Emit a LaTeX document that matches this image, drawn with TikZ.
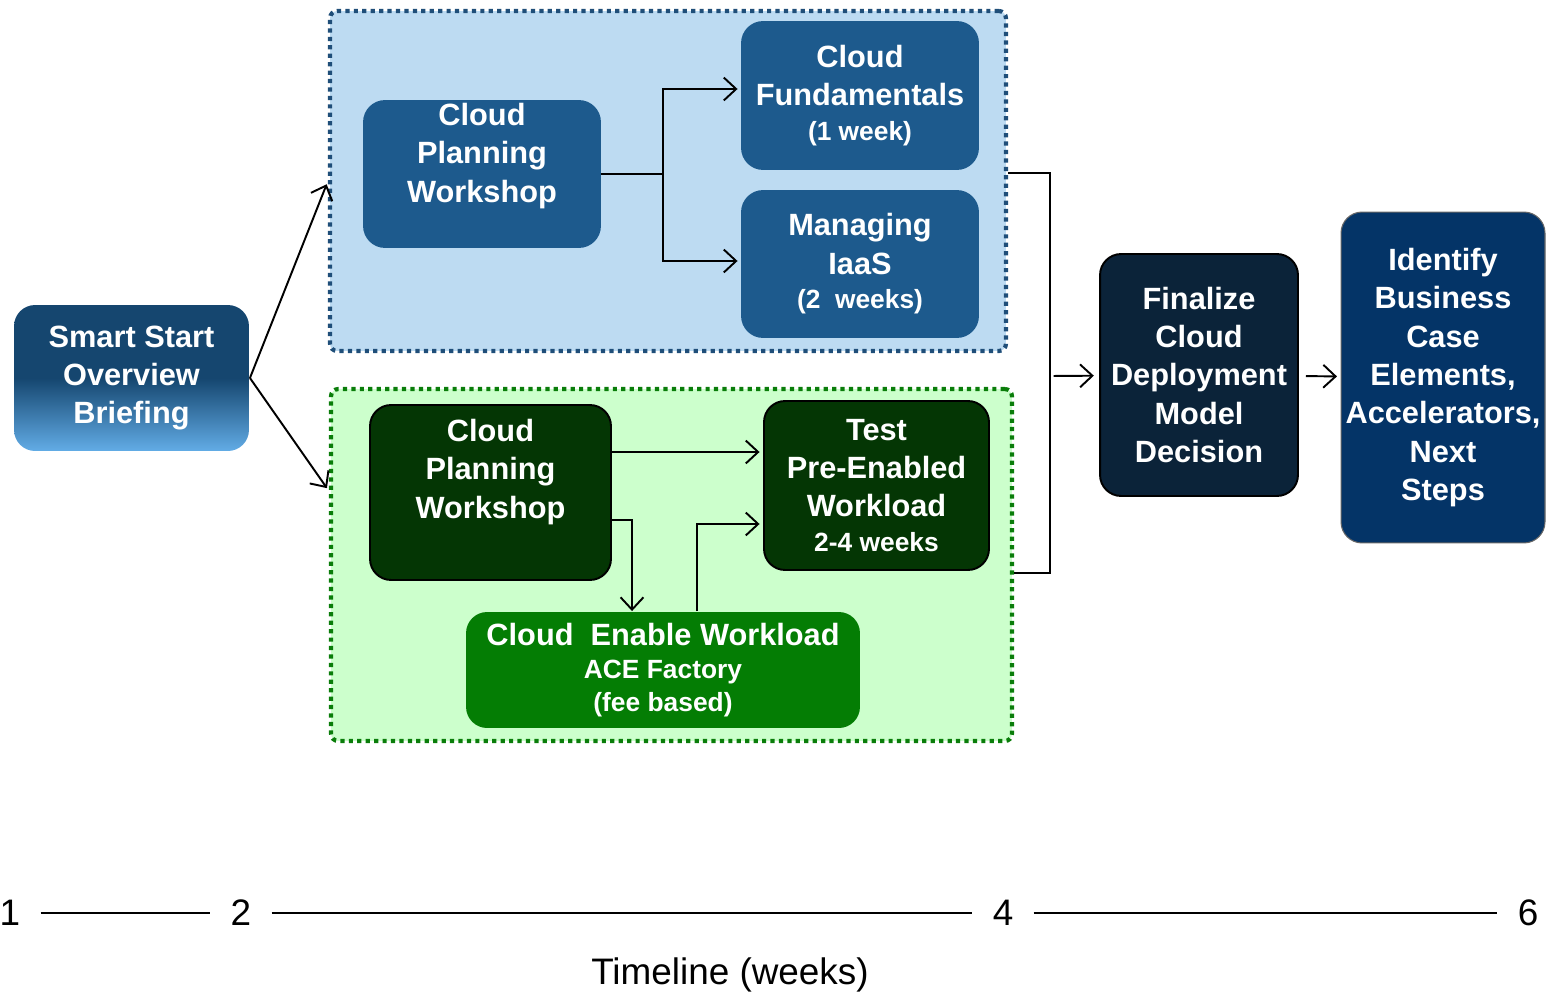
\documentclass[tikz,border=0pt]{standalone}
\usepackage{fontspec}
\setmainfont{Liberation Sans}
\usetikzlibrary{arrows.meta}

\definecolor{areablue}{HTML}{BDDBF2}
\definecolor{dotblue}{HTML}{1F4E79}
\definecolor{boxblue}{HTML}{1D5A8D}
\definecolor{areagreen}{HTML}{CCFFCC}
\definecolor{dotgreen}{HTML}{0A7D0A}
\definecolor{boxdkgreen}{HTML}{043604}
\definecolor{boxgreen}{HTML}{047D04}
\definecolor{boxnavy}{HTML}{0B2339}
\definecolor{boxdeep}{HTML}{043467}
\definecolor{smarttop}{HTML}{15466F}
\definecolor{smartbot}{HTML}{62ACE6}

\newcommand{\smalltxt}{\fontsize{15}{19}\selectfont}

\begin{document}
\begin{tikzpicture}[
       x=0.02cm, y=-0.02cm,
       line width=1.1pt,
       box/.style={
         rounded corners=12pt,
         inner sep=0pt,
         align=center,
         text=white,
         font=\bfseries\fontsize{17.5}{21.8}\selectfont
       },
       boxtext/.style={
         align=center,
         text=white,
         font=\bfseries\fontsize{17.5}{21.8}\selectfont
       },
       bluebox/.style={box, fill=boxblue, draw=boxblue},
       darkbox/.style={box, fill=boxdkgreen, draw=black},
       area/.style={
         rounded corners=4pt,
         line width=2.4pt,
         dash pattern=on 2.4pt off 2.4pt
       },
       arr/.style={-{Straight Barb[length=7pt,width=13pt]}, shorten >=2pt},
       num/.style={font=\fontsize{21}{25}\selectfont, inner xsep=11pt, inner ysep=0pt}
     ]

       \useasboundingbox (0,0) rectangle (1551,993);

       % the two tracks
       \node (bluearea) at (668,181) [area, fill=areablue, draw=dotblue,
         minimum width=13.52cm, minimum height=6.8cm]{};
       \node (greenarea) at (671.5,565) [area, fill=areagreen, draw=dotgreen,
         minimum width=13.62cm, minimum height=7.04cm]{};

       \node (smart) at (131.5,378) [box, top color=smarttop, bottom color=smartbot,
         middle color=smarttop, minimum width=4.7cm, minimum height=2.92cm]
         {Smart Start\\Overview\\Briefing};

       % upper track
       \node (cpwB) at (482,174) [bluebox, minimum width=4.72cm, minimum height=2.92cm]{};
       \node (cpwBtext) at (482,156) [boxtext]{Cloud\\Planning\\Workshop};
       \node (fund) at (860,95.5) [bluebox, minimum width=4.72cm, minimum height=2.94cm]
         {Cloud\\Fundamentals\\[-2pt]{\smalltxt(1 week)}};
       \node (iaas) at (860,264) [bluebox, minimum width=4.72cm, minimum height=2.92cm]
         {Managing\\IaaS\\[-2pt]{\smalltxt(2\ \ weeks)}};

       % lower track
       \node (cpwG) at (490.5,492.5) [darkbox, minimum width=4.82cm, minimum height=3.5cm]{};
       \node (cpwGtext) at (490.5,472) [boxtext]{Cloud\\Planning\\Workshop};
       \node (test) at (876.5,485.5) [darkbox, minimum width=4.5cm, minimum height=3.38cm]
         {Test\\Pre-Enabled\\Workload\\[-2pt]{\smalltxt 2-4 weeks}};
       \node (enable) at (663,670) [box, fill=boxgreen, minimum width=7.88cm, minimum height=2.32cm]
         {Cloud\ \ Enable Workload\\[-3pt]{\smalltxt ACE Factory}\\[-3pt]{\smalltxt(fee based)}};

       % decision and next steps
       \node (final) at (1199,375) [box, fill=boxnavy, draw=black, minimum width=3.96cm, minimum height=4.84cm]
         {Finalize\\Cloud\\Deployment\\Model\\Decision};
       \node (ident) at (1443,377.5) [box, fill=boxdeep, draw=black!60, line width=0.6pt,
         minimum width=4.08cm, minimum height=6.62cm]
         {Identify\\Business\\Case\\Elements,\\Accelerators,\\Next\\Steps};

       \coordinate (splitB) at (663,174);
       \coordinate (join) at (1050,376);

       \draw[arr] (smart.east) -- (bluearea.west);
       \draw[arr] (smart.east) -- ([yshift=1.48cm]greenarea.west);

       \draw (cpwB.east) -- (splitB);
       \draw[arr] (splitB) |- ([yshift=0.13cm]fund.west);
       \draw[arr] (splitB) |- ([yshift=0.06cm]iaas.west);

       \draw[arr] ([yshift=0.81cm]cpwG.east) coordinate (g1) -- (g1 -| test.west);
       \draw[arr, shorten >=0pt] ([yshift=-0.55cm]cpwG.east) -| ([xshift=-0.62cm]enable.north);
       \draw[arr] ([xshift=0.68cm]enable.north) |- ([yshift=-0.77cm]test.west);

       \draw ([yshift=0.16cm]bluearea.east) -| (join) |- ([yshift=-0.16cm]greenarea.east);
       \draw[arr, shorten <=2pt, shorten >=3pt] (join) -- (final);
       \draw[arr, shorten <=4pt, shorten >=2pt] (final) -- (ident);

       % timeline
       \node (t1) at (10,913) [num]{1};
       \node (t2) at (241,913) [num]{2};
       \node (t4) at (1003,913) [num]{4};
       \node (t6) at (1528,913) [num]{6};
       \draw (t1) -- (t2);
       \draw (t2) -- (t4);
       \draw (t4) -- (t6);
       \node (tl) at (730,975) [font=\fontsize{21}{25}\selectfont]{Timeline (weeks)};

\end{tikzpicture}
\end{document}
